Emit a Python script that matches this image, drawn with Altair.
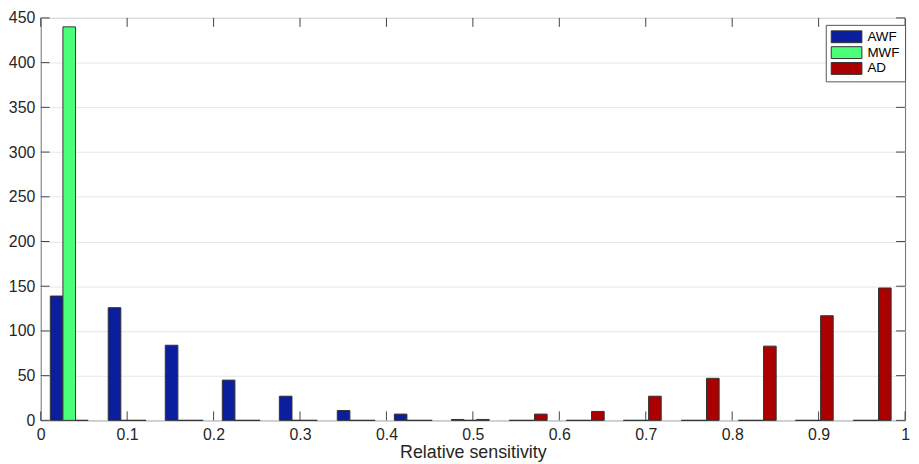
import altair as alt
import pandas as pd

# ---- data ----
bin_centers = [0.033, 0.100, 0.166, 0.232, 0.298, 0.365, 0.431, 0.497,
               0.564, 0.630, 0.696, 0.763, 0.829, 0.895, 0.962]
awf_counts = [139, 126, 84, 45, 27, 11, 7, 1, 0, 0, 0, 0, 0, 0, 0]
mwf_counts = [440, 0, 0, 0, 0, 0, 0, 0, 0, 0, 0, 0, 0, 0, 0]
ad_counts = [0, 0, 0, 0, 0, 0, 0, 1, 7, 10, 27, 47, 83, 117, 148]
series = ["AWF", "MWF", "AD"]
colors = ["#0A1E9E", "#4CFF7A", "#AA0000"]
x_ticks = [0, 0.1, 0.2, 0.3, 0.4, 0.5, 0.6, 0.7, 0.8, 0.9, 1]
y_ticks = [0, 50, 100, 150, 200, 250, 300, 350, 400, 450]

slot = 0.0146
offsets = {"AWF": -slot, "MWF": 0.0, "AD": slot}
rows = []
for name, vals in zip(series, [awf_counts, mwf_counts, ad_counts]):
    for c, v in zip(bin_centers, vals):
        rows.append({"series": name,
                     "left": c + offsets[name] - slot / 2,
                     "right": c + offsets[name] + slot / 2,
                     "count": v, "zero": 0})
df = pd.DataFrame(rows)

W, H = 872, 406
TICK = 9
FONT = "Liberation Sans"

xscale = alt.Scale(domain=[0, 1], nice=False, zero=False)
yscale = alt.Scale(domain=[0, 450], nice=False)
xaxis = alt.Axis(values=x_ticks, format="~g", title="Relative sensitivity",
                 grid=False, domain=False, ticks=False, labelFlush=False,
                 labelPadding=6, titlePadding=1)
yaxis = alt.Axis(values=y_ticks, title=None, grid=True, domain=False,
                 ticks=False, labelFlush=False, labelPadding=6)

bars = alt.Chart(df).mark_rect(stroke="#333333", strokeWidth=1).encode(
    x=alt.X("left:Q", scale=xscale, axis=xaxis),
    x2="right:Q",
    y=alt.Y("count:Q", scale=yscale, axis=yaxis),
    y2="zero:Q",
    color=alt.Color("series:N", sort=series,
                    scale=alt.Scale(domain=series, range=colors),
                    legend=alt.Legend(title=None, orient="none", legendX=792, legendY=7,
                                      fillColor="white", strokeColor="#555555",
                                      padding=5, symbolType="M-2.38,-0.92H2.38V0.92H-2.38Z",
                                      symbolSize=169, symbolOffset=9,
                                      symbolStrokeColor="#333333",
                                      symbolStrokeWidth=1, symbolOpacity=1,
                                      labelFontSize=13.5, labelOffset=14, rowPadding=0,
                                      labelFont=FONT, labelColor="black")),
)

xt = pd.DataFrame({"v": x_ticks})
yt = pd.DataFrame({"v": y_ticks})

xt_bottom = alt.Chart(xt).mark_rule(color="#444444").encode(
    x=alt.X("v:Q", scale=xscale, axis=xaxis), y=alt.value(H), y2=alt.value(H - TICK))
xt_top = alt.Chart(xt).mark_rule(color="#444444").encode(
    x=alt.X("v:Q", scale=xscale, axis=xaxis), y=alt.value(0), y2=alt.value(TICK))
yt_left = alt.Chart(yt).mark_rule(color="#444444").encode(
    y=alt.Y("v:Q", scale=yscale, axis=yaxis), x=alt.value(0), x2=alt.value(TICK))
yt_right = alt.Chart(yt).mark_rule(color="#444444").encode(
    y=alt.Y("v:Q", scale=yscale, axis=yaxis), x=alt.value(W), x2=alt.value(W - TICK))

chart = alt.layer(bars, xt_bottom, xt_top, yt_left, yt_right).properties(
    width=W, height=H,
    autosize=alt.AutoSizeParams(type="none"),
    padding={"left": 33, "top": 8, "right": 6, "bottom": 40},
).configure(font=FONT).configure_view(
    stroke="#6e6e6e", strokeWidth=1
).configure_axis(
    labelFont=FONT, titleFont=FONT, labelFontSize=16, titleFontSize=18,
    labelColor="#262626", titleColor="#262626", titleFontWeight="normal",
    gridColor="#e6e6e6", gridWidth=1
)

chart.save("out.html", embed_options={"renderer": "svg", "actions": False})
